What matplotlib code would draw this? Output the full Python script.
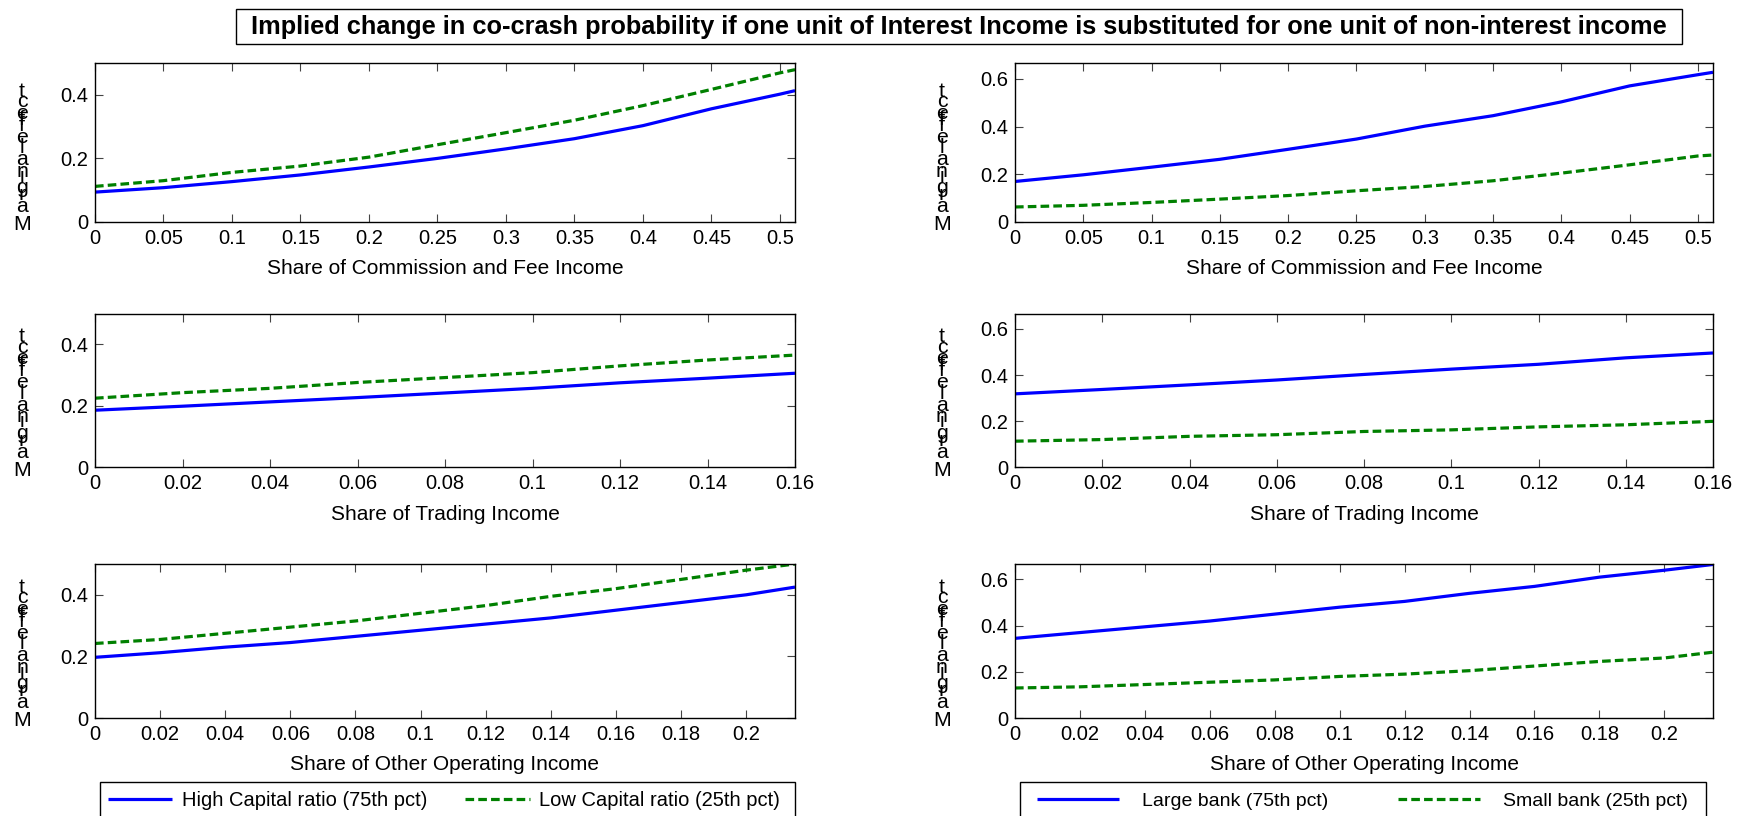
import numpy as np
import matplotlib
matplotlib.use("Agg")
import matplotlib.pyplot as plt
from matplotlib.ticker import FuncFormatter, FixedLocator
from matplotlib.textpath import TextToPath
from matplotlib.font_manager import FontProperties
from matplotlib.patches import Rectangle

plt.rcParams['font.family'] = ['Liberation Sans', 'DejaVu Sans']

# ---------------- data ----------------
title = "Implied change in co-crash probability if one unit of Interest Income is substituted for one unit of non-interest income"
ylabel = "Marginal effect"

x_comm = [0, 0.05, 0.10, 0.15, 0.20, 0.25, 0.30, 0.35, 0.40, 0.45, 0.50, 0.511]
x_trad = [0, 0.02, 0.04, 0.06, 0.08, 0.10, 0.12, 0.14, 0.16]
x_oth = [0, 0.02, 0.04, 0.06, 0.08, 0.10, 0.12, 0.14, 0.16, 0.18, 0.20, 0.215]

# left column: capital ratio
hicap_comm = [0.094, 0.108, 0.127, 0.148, 0.173, 0.200, 0.230, 0.262, 0.303, 0.356, 0.402, 0.413]
locap_comm = [0.112, 0.130, 0.156, 0.176, 0.204, 0.243, 0.281, 0.320, 0.366, 0.417, 0.469, 0.479]
hicap_trad = [0.186, 0.199, 0.213, 0.227, 0.242, 0.257, 0.275, 0.290, 0.306]
locap_trad = [0.225, 0.243, 0.257, 0.276, 0.292, 0.308, 0.330, 0.349, 0.365]
hicap_oth = [0.197, 0.212, 0.230, 0.245, 0.265, 0.285, 0.305, 0.325, 0.350, 0.375, 0.400, 0.425]
locap_oth = [0.242, 0.255, 0.275, 0.295, 0.315, 0.340, 0.365, 0.395, 0.420, 0.450, 0.480, 0.500]

# right column: bank size
large_comm = [0.170, 0.198, 0.230, 0.263, 0.305, 0.348, 0.402, 0.446, 0.504, 0.571, 0.618, 0.628]
small_comm = [0.063, 0.070, 0.082, 0.096, 0.111, 0.131, 0.149, 0.173, 0.205, 0.240, 0.277, 0.281]
large_trad = [0.319, 0.338, 0.358, 0.379, 0.403, 0.426, 0.447, 0.475, 0.496]
small_trad = [0.114, 0.121, 0.135, 0.142, 0.156, 0.163, 0.176, 0.185, 0.200]
large_oth = [0.345, 0.370, 0.395, 0.420, 0.450, 0.480, 0.505, 0.540, 0.570, 0.610, 0.640, 0.665]
small_oth = [0.130, 0.135, 0.145, 0.155, 0.165, 0.180, 0.190, 0.205, 0.225, 0.245, 0.260, 0.285]

xlabels = ["Share of Commission and Fee Income", "Share of Trading Income",
           "Share of Other Operating Income"]
xticks_comm = [0, 0.05, 0.1, 0.15, 0.2, 0.25, 0.3, 0.35, 0.4, 0.45, 0.5]
xticks_trad = [0, 0.02, 0.04, 0.06, 0.08, 0.1, 0.12, 0.14, 0.16]
xticks_oth = [0, 0.02, 0.04, 0.06, 0.08, 0.1, 0.12, 0.14, 0.16, 0.18, 0.2]
xlims = [0.511, 0.16, 0.215]
yticks_left = [0, 0.2, 0.4]
yticks_right = [0, 0.2, 0.4, 0.6]
ylim_left = 0.5
ylim_right = 0.667

legend_left = ["High Capital ratio (75th pct)", "Low Capital ratio (25th pct)"]
legend_right = ["Large bank (75th pct)", "Small bank (25th pct)"]

# ---------------- figure ----------------
W, H = 1737, 816
fig = plt.figure(figsize=(W / 100, H / 100), dpi=100)

col_x = [(95, 700), (1015, 698)]
row_y = [(63, 222), (313.5, 467.5), (564, 718)]

FS_TICK = 14.5
FS_LAB = 15
FS_LEG = 14.5
BLUE = '#0000FF'
GREEN = '#008000'
LW = 2.3

fmt = FuncFormatter(lambda v, p: ('%g' % round(v, 4)))

series = [
    [(x_comm, hicap_comm, locap_comm), (x_trad, hicap_trad, locap_trad), (x_oth, hicap_oth, locap_oth)],
    [(x_comm, large_comm, small_comm), (x_trad, large_trad, small_trad), (x_oth, large_oth, small_oth)],
]
xticks_all = [xticks_comm, xticks_trad, xticks_oth]

ttp = TextToPath()
ylab_prop = FontProperties(family='Liberation Sans', size=15.3)


def stacked_label(ax_left_px, ax_bottom_px):
    xc = ax_left_px - 73
    ybase = ax_bottom_px + 8  # pixel from top
    off = 0.0
    for ch in ylabel:
        if ch != ' ':
            fig.text(xc / W, 1 - (ybase - off) / H, ch, ha='center', va='baseline',
                     fontproperties=ylab_prop, color='black')
        w, h, d = ttp.get_text_width_height_descent(ch, ylab_prop, ismath=False)
        off += w * 100 / 72.0


axes = []
for c in range(2):
    for r in range(3):
        x0, w = col_x[c]
        yt, yb = row_y[r]
        ax = fig.add_axes([x0 / W, 1 - yb / H, w / W, (yb - yt) / H])
        xs, s1, s2 = series[c][r]
        l1, = ax.plot(xs, s1, color=BLUE, lw=LW, solid_capstyle='butt')
        l2, = ax.plot(xs, s2, color=GREEN, lw=LW, dashes=(2.7, 1.3))
        ax.set_xlim(0, xlims[r])
        ax.set_ylim(0, ylim_left if c == 0 else ylim_right)
        ax.xaxis.set_major_locator(FixedLocator(xticks_all[r]))
        ax.yaxis.set_major_locator(FixedLocator(yticks_left if c == 0 else yticks_right))
        ax.xaxis.set_major_formatter(fmt)
        ax.yaxis.set_major_formatter(fmt)
        ax.tick_params(direction='in', length=6, width=0.8, color='#444444',
                       top=True, right=True, labelsize=FS_TICK, pad=5)
        for sp in ax.spines.values():
            sp.set_linewidth(1.0)
            sp.set_color('black')
        ax.set_xlabel(xlabels[r], fontsize=FS_LAB, labelpad=8)
        stacked_label(x0, yb)
        axes.append((ax, l1, l2))

# title with box
fig.patches.append(Rectangle((236 / W, 1 - 44 / H), (1682 - 236) / W, 35 / H,
                             transform=fig.transFigure, facecolor='white',
                             edgecolor='black', lw=1.0, zorder=0))
fig.text(959 / W, 1 - 27 / H, title, ha='center', va='center', fontsize=18.3,
         fontweight='bold')

# legends (frames drawn as rectangles)
axL, l1L, l2L = axes[0]
axR, l1R, l2R = axes[3]
fig.patches.append(Rectangle((100 / W, -0.05), (795 - 100) / W, 0.05 + (816 - 782) / H,
                             transform=fig.transFigure, facecolor='white',
                             edgecolor='black', lw=1.0, zorder=0))
fig.patches.append(Rectangle((1020 / W, -0.05), (1706 - 1020) / W, 0.05 + (816 - 782) / H,
                             transform=fig.transFigure, facecolor='white',
                             edgecolor='black', lw=1.0, zorder=0))
fig.legend([l1L, l2L], legend_left, loc='center left', ncol=2,
           bbox_to_anchor=(108 / W, 1 - 801 / H), fontsize=FS_LEG,
           frameon=False, handlelength=3.2, borderpad=0, borderaxespad=0,
           columnspacing=1.9, handletextpad=0.45)
fig.legend([l1R, l2R], legend_right, loc='center left', ncol=2,
           bbox_to_anchor=(1037 / W, 1 - 801 / H), fontsize=14,
           frameon=False, handlelength=4.2, borderpad=0, borderaxespad=0,
           columnspacing=3.6, handletextpad=1.2)

fig.savefig('out.png', dpi=100)
